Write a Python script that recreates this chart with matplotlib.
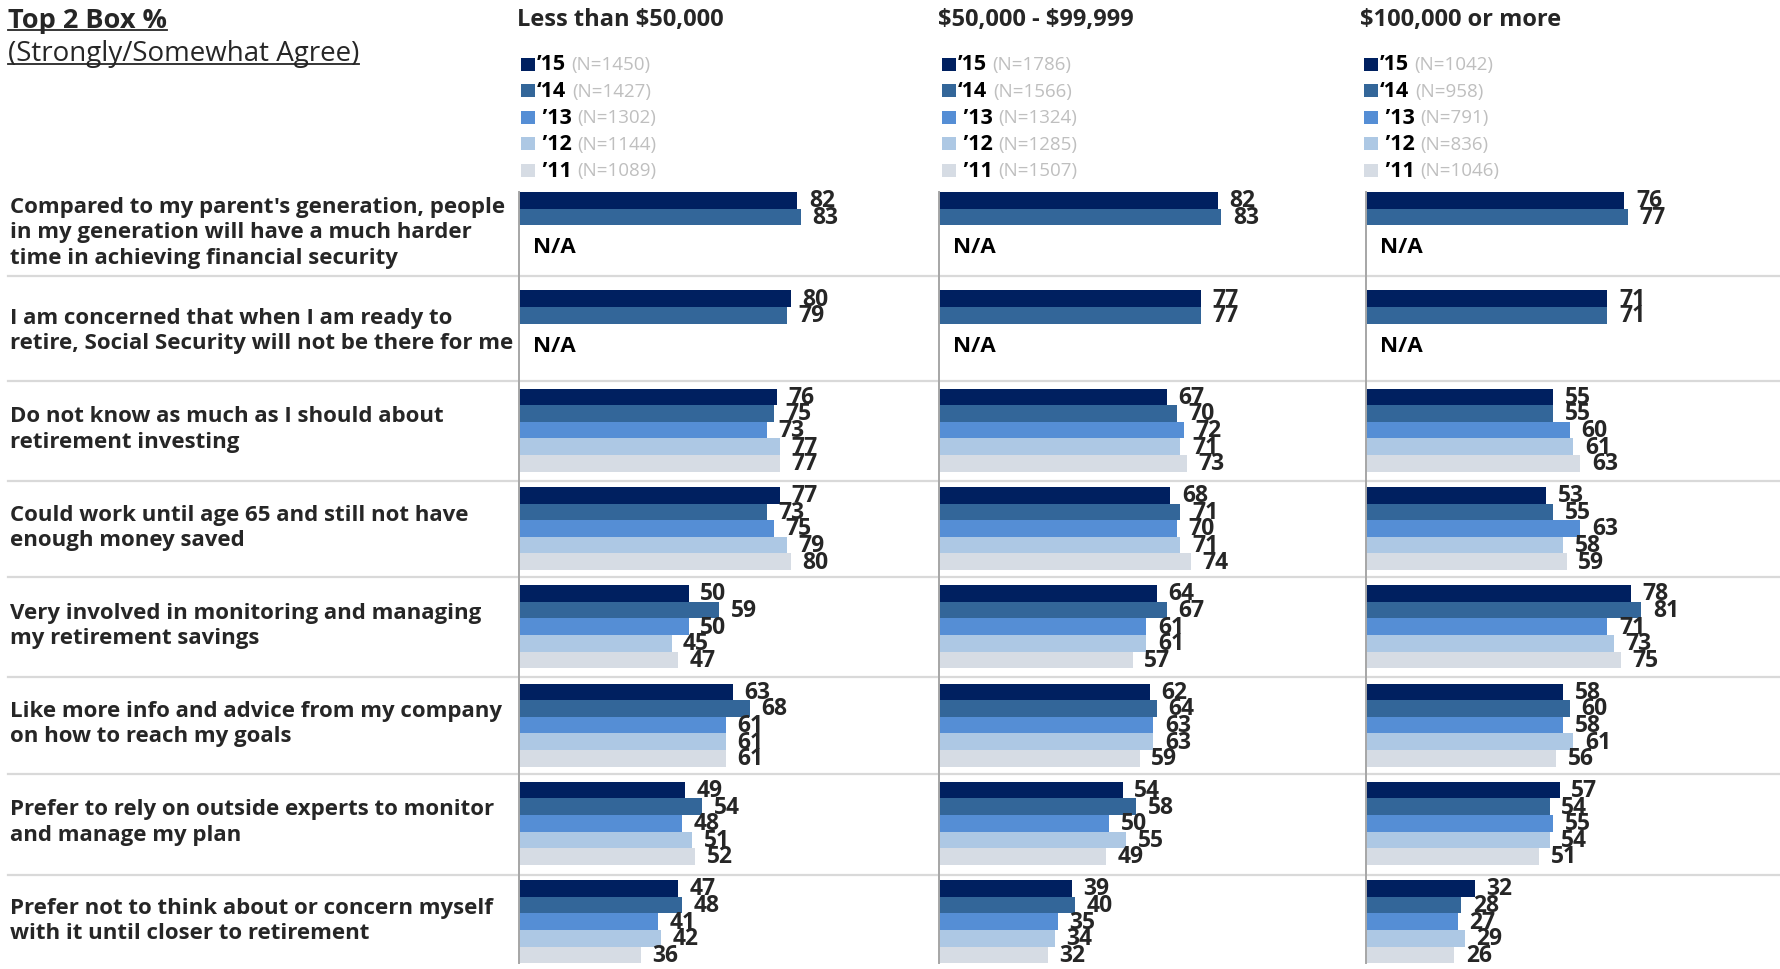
import matplotlib.pyplot as plt
from matplotlib.patches import Rectangle
from matplotlib.lines import Line2D

plt.rcParams['font.family'] = ['Open Sans', 'DejaVu Sans']

statements = [
    "Compared to my parent's generation, people\nin my generation will have a much harder\ntime in achieving financial security",
    "I am concerned that when I am ready to\nretire, Social Security will not be there for me",
    "Do not know as much as I should about\nretirement investing",
    "Could work until age 65 and still not have\nenough money saved",
    "Very involved in monitoring and managing\nmy retirement savings",
    "Like more info and advice from my company\non how to reach my goals",
    "Prefer to rely on outside experts to monitor\nand manage my plan",
    "Prefer not to think about or concern myself\nwith it until closer to retirement",
]
income_groups = [r"Less than \$50,000", r"\$50,000 - \$99,999", r"\$100,000 or more"]
years = ["\u201915", "\u201814", " \u201913", " \u201912", " \u201911"]
sample_sizes = [
    [1450, 1427, 1302, 1144, 1089],
    [1786, 1566, 1324, 1285, 1507],
    [1042, 958, 791, 836, 1046],
]

# one list per statement: '15, '14, '13, '12, '11 (None = not asked that year)
low_income = [
    [82, 83, None, None, None],
    [80, 79, None, None, None],
    [76, 75, 73, 77, 77],
    [77, 73, 75, 79, 80],
    [50, 59, 50, 45, 47],
    [63, 68, 61, 61, 61],
    [49, 54, 48, 51, 52],
    [47, 48, 41, 42, 36],
]
mid_income = [
    [82, 83, None, None, None],
    [77, 77, None, None, None],
    [67, 70, 72, 71, 73],
    [68, 71, 70, 71, 74],
    [64, 67, 61, 61, 57],
    [62, 64, 63, 63, 59],
    [54, 58, 50, 55, 49],
    [39, 40, 35, 34, 32],
]
high_income = [
    [76, 77, None, None, None],
    [71, 71, None, None, None],
    [55, 55, 60, 61, 63],
    [53, 55, 63, 58, 59],
    [78, 81, 71, 73, 75],
    [58, 60, 58, 61, 56],
    [57, 54, 55, 54, 51],
    [32, 28, 27, 29, 26],
]
panels = [low_income, mid_income, high_income]

colors = ['#002060', '#336699', '#558ed5', '#adc8e4', '#d6dce4']
dark = '#262626'

W, H = 1781, 970
fig = plt.figure(figsize=(W / 100, H / 100), dpi=100)


def fx(px):
    return px / W


def fy(py):
    return 1 - py / H


# layout in pixels
bars_top, row_pitch, bar_h = 193, 98.3, 16.6
n_rows = len(statements)
axis_x = [518.5, 939, 1366]
header_x = [517, 938, 1360]
px_per_unit = 3.40
ax_width = 400
slot = bar_h / row_pitch
y_span = (n_rows - 1) + 5 * slot
bars_bottom = bars_top + y_span * row_pitch

# row separators, in row units from the top of the first bar group
sep_rows = [0.855, 1.923, 2.94, 3.92, 4.93, 5.92, 6.95]
for s in sep_rows:
    yy = fy(bars_top + s * row_pitch)
    fig.add_artist(Line2D([fx(8), 1], [yy, yy], color='#d9d9d9', lw=1.6,
                          transform=fig.transFigure, zorder=0))

for i, label in enumerate(statements):
    yc = bars_top + (i + 2.4 * slot) * row_pitch
    fig.text(fx(10), fy(yc), label, ha='left', va='center', fontsize=16,
             fontweight='bold', color=dark, linespacing=1.27)

for p, data in enumerate(panels):
    ax = fig.add_axes([fx(axis_x[p]), fy(bars_bottom),
                       ax_width / W, (bars_bottom - bars_top) / H])
    ax.patch.set_alpha(0)
    ax.set_xlim(0, ax_width / px_per_unit)
    ax.set_ylim(y_span, 0)
    for side in ['top', 'right', 'bottom']:
        ax.spines[side].set_visible(False)
    ax.spines['left'].set_color('#a6a6a6')
    ax.spines['left'].set_linewidth(1.4)
    ax.set_xticks([])
    ax.set_yticks([])

    for i, row in enumerate(data):
        for j, v in enumerate(row):
            yc = i + (j + 0.5) * slot
            if v is None:
                continue
            ax.barh(yc, v, height=slot, color=colors[j], edgecolor='none')
            ax.text(v + 3.4, yc, str(v), ha='left', va='center', fontsize=16.5,
                    fontweight='bold', color=dark, clip_on=False)
        if any(v is None for v in row):
            ax.text(4.2, i + 3.3 * slot, 'N/A', ha='left', va='center',
                    fontsize=16, fontweight='bold', color='black')

    # panel header and year legend
    fig.text(fx(header_x[p]), fy(20), income_groups[p], ha='left', va='center',
             fontsize=17, fontweight='bold', color=dark)
    for k, yr in enumerate(years):
        yc = 65 + k * 26.6
        fig.add_artist(Rectangle((fx(header_x[p] + 4), fy(yc + 6.5)), 14 / W, 13 / H,
                                 transform=fig.transFigure, facecolor=colors[k],
                                 edgecolor='none'))
        t = fig.text(fx(header_x[p] + 20), fy(yc), yr, ha='left', va='center',
                     fontsize=15.5, fontweight='bold', color='black')
        fig.add_artist(plt.Annotation('(N=%d)' % sample_sizes[p][k], xy=(1, 0.5),
                                      xycoords=t, xytext=(4, 0),
                                      textcoords='offset points', ha='left',
                                      va='center', fontsize=13.5, color='#bfbfbf'))

t1 = fig.text(fx(8), fy(21), 'Top 2 Box %', ha='left', va='center', fontsize=19.5,
              fontweight='bold', color=dark)
t2 = fig.text(fx(8), fy(54), '(Strongly/Somewhat Agree)', ha='left', va='center',
              fontsize=20, color=dark)

# underline the title lines
renderer = fig.canvas.get_renderer()
for t in (t1, t2):
    bb = t.get_window_extent(renderer)
    yy = (bb.y0 + 3) / H
    fig.add_artist(Line2D([bb.x0 / W, bb.x1 / W], [yy, yy], color=dark, lw=1.3,
                          transform=fig.transFigure))

fig.savefig('out.png', dpi=100)
